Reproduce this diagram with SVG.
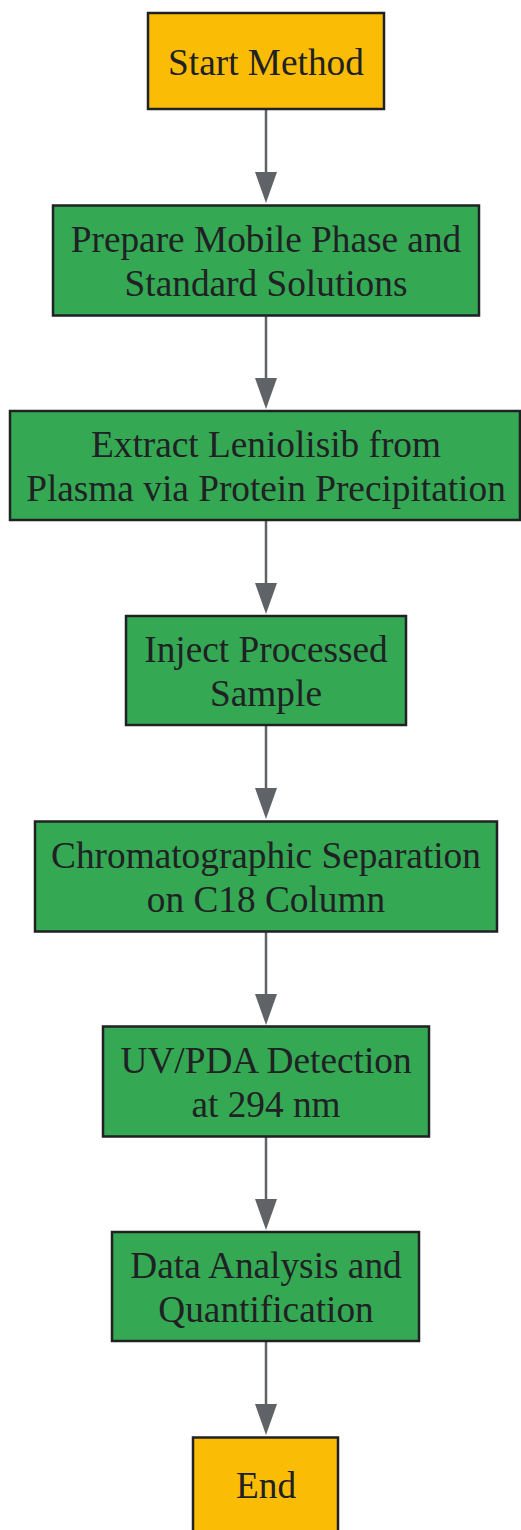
<svg xmlns="http://www.w3.org/2000/svg" width="521" height="1530" viewBox="0 0 521 1530">
<defs>
<style>
.n rect{stroke:#202124;stroke-width:2.5}
.t{fill:#34a853}
.o{fill:#fbbc05}
text{font-family:"Liberation Serif","Times New Roman",serif;font-size:37.3px;fill:#202124;text-anchor:middle}
.e line{stroke:#5f6368;stroke-width:2.5}
.e path{fill:#5f6368}
</style>
</defs>
<rect width="521" height="1530" fill="#ffffff"/>
<g id="edges" class="e">
<line x1="266" y1="110" x2="266" y2="174"/><path d="M255,172 L277,172 L266,203 Z"/>
<line x1="266" y1="316" x2="266" y2="380"/><path d="M255,378 L277,378 L266,409 Z"/>
<line x1="266" y1="521" x2="266" y2="585"/><path d="M255,583 L277,583 L266,614 Z"/>
<line x1="266" y1="726" x2="266" y2="790"/><path d="M255,788 L277,788 L266,819 Z"/>
<line x1="266" y1="932" x2="266" y2="996"/><path d="M255,994 L277,994 L266,1025 Z"/>
<line x1="266" y1="1137" x2="266" y2="1201"/><path d="M255,1199 L277,1199 L266,1230 Z"/>
<line x1="266" y1="1342" x2="266" y2="1406"/><path d="M255,1404 L277,1404 L266,1435 Z"/>
</g>
<g id="start" class="n"><rect class="o" x="148" y="13" width="236" height="96"/><text x="266" y="75">Start Method</text></g>
<g id="prepare" class="n"><rect class="t" x="53" y="205.5" width="426" height="110"/><text x="266" y="252">Prepare Mobile Phase and</text><text x="266" y="296">Standard Solutions</text></g>
<g id="extract" class="n"><rect class="t" x="10" y="411" width="510" height="109"/><text x="266" y="457">Extract Leniolisib from</text><text x="266" y="501">Plasma via Protein Precipitation</text></g>
<g id="inject" class="n"><rect class="t" x="126" y="616" width="280" height="109"/><text x="266" y="662">Inject Processed</text><text x="266" y="706">Sample</text></g>
<g id="separation" class="n"><rect class="t" x="35" y="821.5" width="462" height="110"/><text x="266" y="868">Chromatographic Separation</text><text x="266" y="912">on C18 Column</text></g>
<g id="detection" class="n"><rect class="t" x="103" y="1026.5" width="326" height="110"/><text x="266" y="1073">UV/PDA Detection</text><text x="266" y="1117">at 294 nm</text></g>
<g id="analysis" class="n"><rect class="t" x="112" y="1232" width="307" height="109"/><text x="266" y="1278">Data Analysis and</text><text x="266" y="1322">Quantification</text></g>
<g id="end" class="n"><rect class="o" x="193" y="1437.5" width="145" height="100"/><text x="266" y="1498">End</text></g>
</svg>
